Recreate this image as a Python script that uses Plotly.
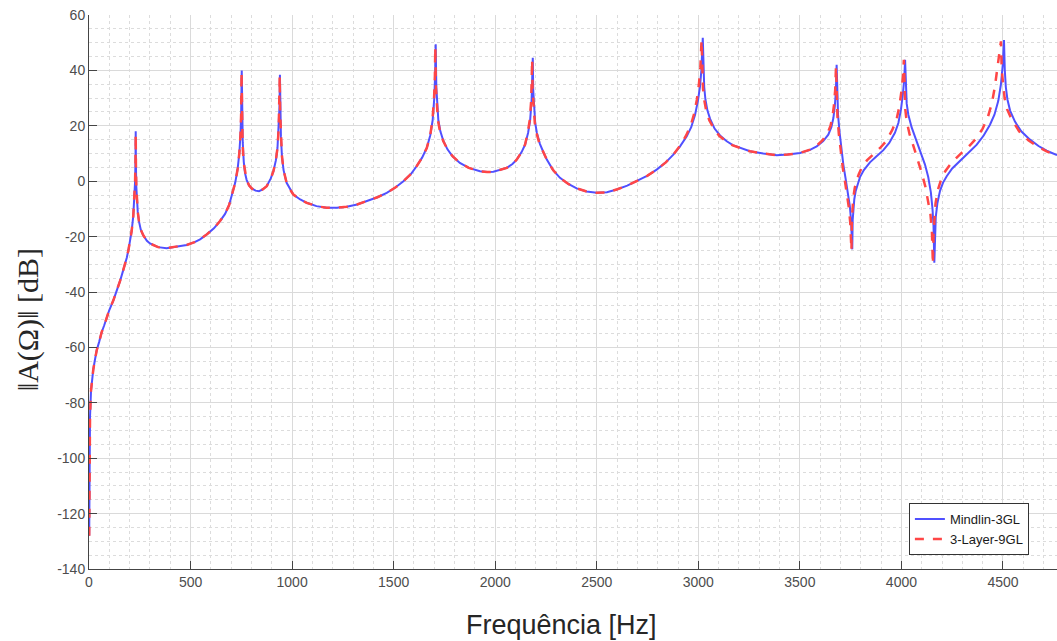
import plotly.graph_objects as go

# Mindlin-3GL (blue, solid) — frequency [Hz] and level [dB]
freq_mindlin = [1, 3, 5, 10, 14, 21, 28, 38, 50, 62, 75, 87, 100, 120, 135, 153, 165, 177, 186, 195,
                205, 210, 218, 224, 227, 229, 230, 231, 233, 236, 240, 246, 255, 267, 285, 300, 340, 382, 420, 481,
                520, 547, 580, 615, 645, 670, 690, 705, 720, 732, 740, 746, 749, 752, 754, 757, 762, 768, 776, 788,
                801, 820, 837, 855, 875, 895, 908, 920, 928, 934, 938, 940, 942, 945, 950, 958, 973, 990, 1006, 1040,
                1072, 1120, 1170, 1220, 1269, 1320, 1367, 1420, 1466, 1510, 1548, 1585, 1613, 1640, 1663, 1680, 1692, 1700, 1704, 1707,
                1710, 1714, 1720, 1730, 1745, 1765, 1790, 1826, 1870, 1925, 1960, 1991, 2025, 2057, 2085, 2106, 2130, 2147, 2162, 2172,
                2179, 2183, 2185, 2187, 2191, 2197, 2205, 2220, 2240, 2254, 2285, 2319, 2360, 2401, 2450, 2500, 2550, 2598, 2650, 2697,
                2750, 2795, 2840, 2877, 2910, 2943, 2965, 2984, 2998, 3008, 3015, 3022, 3025, 3029, 3035, 3045, 3058, 3080, 3107, 3140,
                3170, 3205, 3254, 3320, 3386, 3440, 3501, 3550, 3583, 3615, 3640, 3655, 3665, 3672, 3677, 3681, 3684, 3688, 3695, 3705,
                3714, 3725, 3739, 3746, 3752, 3756, 3758, 3760, 3763, 3768, 3775, 3785, 3796, 3815, 3845, 3875, 3911, 3940, 3968, 3985,
                3998, 4008, 4014, 4018, 4021, 4026, 4034, 4050, 4075, 4095, 4116, 4132, 4145, 4153, 4158, 4162, 4165, 4169, 4177, 4190,
                4205, 4223, 4250, 4289, 4330, 4371, 4405, 4436, 4458, 4477, 4490, 4499, 4505, 4509, 4514, 4522, 4535, 4559, 4590, 4633,
                4675, 4715, 4766]
db_mindlin = [-128, -100, -85, -75.5, -72, -68, -65, -61, -58, -54.6, -52, -49.2, -46.5, -43, -40, -36, -33, -30, -27.6, -24.5,
              -20.4, -18, -12.5, -6, 0, 8, 18, 6, -2, -7, -11, -14.5, -17.5, -19.5, -21.5, -22.5, -23.8, -24.2, -23.8, -23,
              -22, -21, -19.2, -17, -14.4, -11.8, -8.6, -5, -0.5, 4.5, 10, 17, 24, 40, 24, 14, 7, 3, 0.5, -1.5,
              -2.6, -3.4, -3.6, -3, -1.8, 1, 3.6, 7.5, 12, 19, 27, 38.4, 25, 16, 9, 4, -0.6, -3, -4.8, -6.6,
              -7.8, -9, -9.6, -9.6, -9.2, -8.4, -7.2, -5.8, -4.2, -2.2, 0, 2.6, 5.4, 8.5, 12, 16.5, 22, 30, 38, 49.4,
              34, 27, 22, 18, 14.5, 11.5, 9, 6.6, 4.8, 3.6, 3.3, 3.4, 4, 4.8, 6.2, 7.8, 10.5, 13.2, 17.5, 22,
              29, 36, 44.6, 33, 26, 21, 17.5, 13.5, 10, 7.8, 4, 1.2, -1, -2.6, -3.7, -4.2, -4, -3, -1.6, 0,
              2, 4.2, 6.8, 9.6, 12.6, 16.2, 19.5, 24, 29, 34, 40, 51.8, 40, 34, 29.5, 25.5, 22.5, 19, 16.5, 14.4,
              13, 12, 10.8, 10, 9.4, 9.6, 10.2, 11.3, 12.6, 14.5, 16.8, 19.5, 22.8, 27, 32, 42, 30, 24, 18, 11,
              6, 1, -4.8, -9, -14, -20, -24.6, -14, -9.5, -6.5, -3.5, -0.8, 1.5, 4, 6.8, 8.8, 11.2, 13.8, 17.5, 21,
              26, 32, 37, 43.8, 33, 28, 24, 19.5, 14.4, 10.5, 6, 1.5, -4, -10, -16, -29.4, -18, -13, -8, -3.5,
              -0.5, 1.8, 4.6, 7.5, 10.3, 13.2, 16.5, 20.4, 24, 29, 35, 42, 51, 40, 34, 29.5, 25.5, 21.5, 18, 15,
              12.7, 11, 9.4]

# 3-Layer-9GL (red, dashed)
freq_layer = [1, 3, 5, 10, 14, 21, 28, 38, 50, 62, 75, 87, 100, 120, 135, 153, 165, 177, 186, 195,
              205, 210, 218, 224, 227, 229, 230, 231, 233, 236, 240, 246, 255, 267, 285, 300, 340, 382, 420, 481,
              520, 547, 580, 615, 645, 670, 690, 705, 720, 732, 740, 746, 749, 751, 753, 756, 761, 768, 776, 788,
              801, 820, 837, 855, 875, 895, 908, 920, 928, 934, 937, 939, 941, 944, 950, 958, 973, 990, 1006, 1040,
              1072, 1120, 1170, 1220, 1269, 1320, 1367, 1420, 1466, 1510, 1548, 1585, 1613, 1640, 1663, 1680, 1691, 1699, 1703, 1705,
              1708, 1712, 1718, 1728, 1744, 1765, 1790, 1826, 1870, 1925, 1960, 1991, 2025, 2057, 2085, 2106, 2130, 2147, 2160, 2170,
              2177, 2180, 2182, 2184, 2189, 2195, 2203, 2218, 2240, 2254, 2285, 2319, 2360, 2401, 2450, 2500, 2550, 2598, 2650, 2697,
              2750, 2795, 2840, 2877, 2910, 2940, 2962, 2980, 2993, 3003, 3010, 3016, 3019, 3023, 3030, 3040, 3054, 3078, 3104, 3140,
              3170, 3205, 3254, 3320, 3386, 3440, 3501, 3550, 3583, 3612, 3636, 3651, 3661, 3668, 3674, 3678, 3681, 3685, 3692, 3702,
              3711, 3722, 3735, 3742, 3748, 3752, 3754, 3756, 3759, 3763, 3770, 3778, 3790, 3805, 3830, 3860, 3895, 3925, 3955, 3975,
              3990, 4001, 4008, 4012, 4015, 4019, 4026, 4040, 4060, 4080, 4100, 4118, 4132, 4143, 4150, 4155, 4158, 4162, 4168, 4180,
              4195, 4215, 4245, 4290, 4335, 4370, 4400, 4425, 4445, 4460, 4472, 4480, 4490, 4494, 4500, 4508, 4520, 4545, 4580, 4625,
              4670, 4715, 4766]
db_layer = [-128, -100, -85, -75.5, -72, -68, -65, -61, -58, -54.6, -52, -49.2, -46.5, -43, -40, -36, -33, -30, -27.6, -24.5,
            -20.4, -18, -12.5, -6, 0, 8, 17, 6, -2, -7, -11, -14.5, -17.5, -19.5, -21.5, -22.5, -23.8, -24.2, -23.8, -23,
            -22, -21, -19.2, -17, -14.4, -11.8, -8.6, -5, -0.5, 4.5, 10, 17, 24, 39.5, 24, 14, 7, 3, 0.5, -1.5,
            -2.6, -3.4, -3.6, -3, -1.8, 1, 3.6, 7.5, 12, 19, 27, 38, 25, 16, 9, 4, -0.6, -3, -4.8, -6.6,
            -7.8, -9, -9.6, -9.6, -9.2, -8.4, -7.2, -5.8, -4.2, -2.2, 0, 2.6, 5.4, 8.5, 12, 16.5, 22, 30, 38, 48.5,
            34, 27, 22, 18, 14.5, 11.5, 9, 6.6, 4.8, 3.6, 3.3, 3.4, 4, 4.8, 6.2, 7.8, 10.5, 13.2, 17.5, 22,
            29, 36, 44, 33, 26, 21, 17.5, 13.5, 10, 7.8, 4, 1.2, -1, -2.6, -3.7, -4.2, -4, -3, -1.6, 0,
            2, 4.2, 6.8, 9.6, 12.8, 16.5, 20, 24.5, 29.5, 35, 41, 51, 40, 33.5, 29, 25, 22, 18.8, 16.3, 14.2,
            12.9, 12, 10.8, 10, 9.4, 9.6, 10.2, 11.4, 12.8, 14.8, 17.3, 20, 23.5, 27.5, 33, 41.5, 30, 23.5, 17, 10,
            5, 0, -6, -10, -15, -20, -25, -14, -9, -6, -2.5, 0, 2.5, 5, 7.5, 9.5, 12, 14.5, 18.5, 22,
            27, 33, 38, 43.8, 32, 26, 21.5, 17, 12.5, 8, 3, -2, -7, -12, -18, -30, -19, -13, -8, -3,
            0.5, 3.5, 6.5, 9.8, 12.8, 15.6, 19, 23, 28, 34, 40, 44, 50.5, 40, 35, 30, 26, 22, 18, 14.8,
            12.5, 10.8, 9.2]

x_ticks = [0, 500, 1000, 1500, 2000, 2500, 3000, 3500, 4000, 4500]
y_ticks = [60, 40, 20, 0, -20, -40, -60, -80, -100, -120, -140]

fig = go.Figure()
fig.add_trace(go.Scatter(x=freq_mindlin, y=db_mindlin, mode="lines", name="Mindlin-3GL",
                         line=dict(color="rgb(80,80,255)", width=2)))
fig.add_trace(go.Scatter(x=freq_layer, y=db_layer, mode="lines", name="3-Layer-9GL",
                         line=dict(color="rgb(255,70,70)", width=2.5, dash="dash")))

axis_font = dict(family="Liberation Sans, Arial, sans-serif", size=14, color="#4d4d4d")

fig.update_layout(
    width=1057, height=641,
    margin=dict(l=89, r=0, t=15, b=72),
    paper_bgcolor="white", plot_bgcolor="white",
    showlegend=True,
    legend=dict(x=0.847, y=0.119, xanchor="left", yanchor="top",
                bgcolor="white", bordercolor="#333333", borderwidth=1,
                font=dict(family="Liberation Sans, Arial, sans-serif", size=13, color="#1a1a1a"),
                tracegroupgap=0),
    xaxis=dict(range=[0, 4766], tickvals=x_ticks, ticktext=[str(v) for v in x_ticks],
               ticks="inside", ticklen=8, tickcolor="#444444",
               showline=True, linecolor="#444444", linewidth=1,
               showgrid=True, gridcolor="#dadada", gridwidth=1,
               zeroline=False, tickfont=axis_font,
               minor=dict(dtick=100, tick0=0, showgrid=True, gridcolor="#dcdcdc", griddash="dot", ticks="")),
    yaxis=dict(range=[-140, 60], tickvals=y_ticks, ticktext=[str(v) for v in y_ticks],
               ticks="inside", ticklen=8, tickcolor="#444444",
               showline=True, linecolor="#444444", linewidth=1,
               showgrid=True, gridcolor="#dadada", gridwidth=1,
               zeroline=False, tickfont=axis_font,
               minor=dict(dtick=5, tick0=0, showgrid=True, gridcolor="#dcdcdc", griddash="dot", ticks="")),
    annotations=[
        dict(text="Frequência [Hz]", xref="paper", yref="paper", x=0.4886, y=-0.101,
             xanchor="center", yanchor="middle", showarrow=False,
             font=dict(family="Liberation Sans, Arial, sans-serif", size=27, color="#262626")),
        dict(text="‖A(Ω)‖ [dB]", xref="paper", yref="paper", x=-0.063, y=0.449,
             xanchor="center", yanchor="middle", showarrow=False, textangle=-90,
             font=dict(family="Liberation Serif, Times New Roman, serif", size=30, color="#262626")),
    ],
)

fig.write_html("out.html")
